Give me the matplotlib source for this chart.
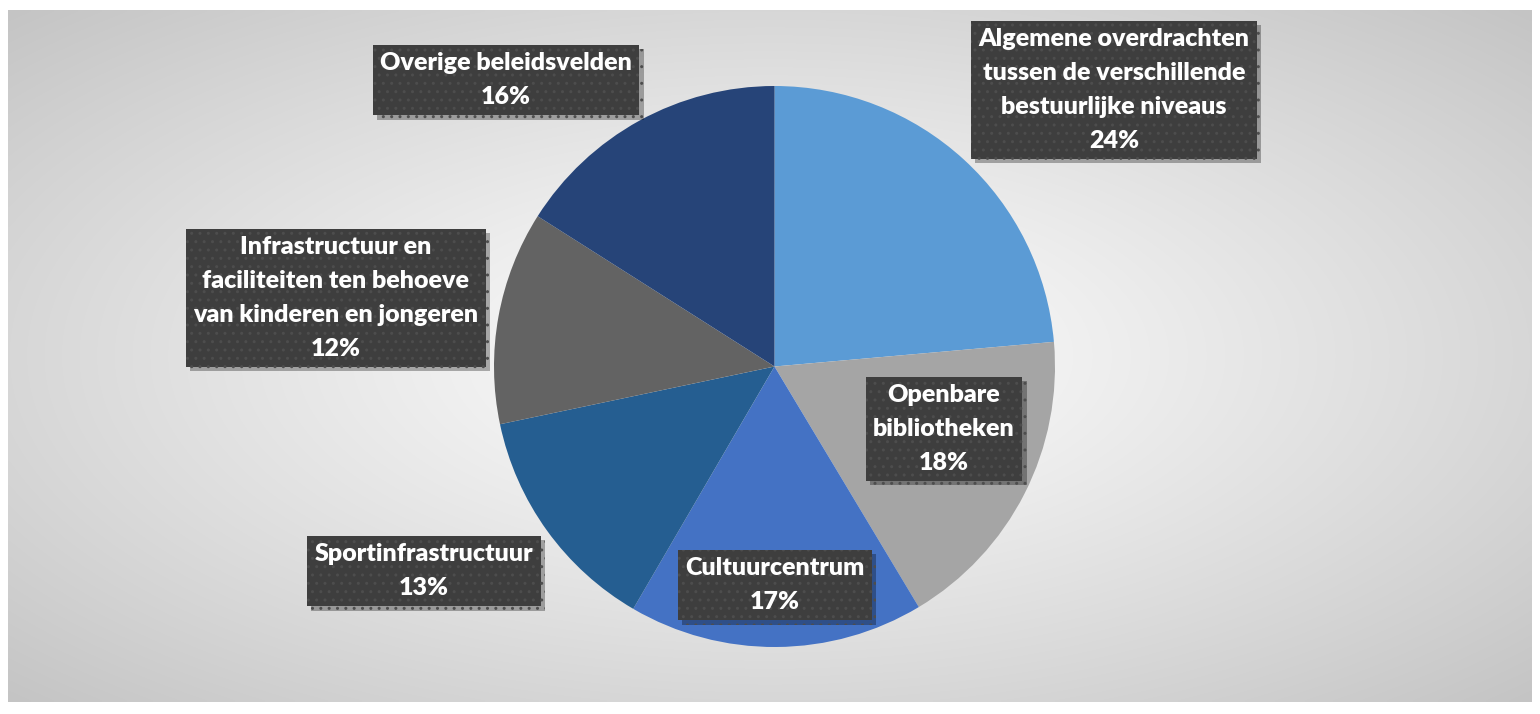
import numpy as np
import matplotlib
matplotlib.use("Agg")
import matplotlib.pyplot as plt
import matplotlib.patheffects as pe

# ---- data ----
categories = [
    "Algemene overdrachten\ntussen de verschillende\nbestuurlijke niveaus",
    "Openbare\nbibliotheken",
    "Cultuurcentrum",
    "Sportinfrastructuur",
    "Infrastructuur en\nfaciliteiten ten behoeve\nvan kinderen en jongeren",
    "Overige beleidsvelden",
]
values = [23.6, 17.8, 17.0, 13.3, 12.3, 16.0]
colors = ["#5B9BD5", "#A5A5A5", "#4472C4", "#255E91", "#636363", "#264478"]

# label box centres in pixel coordinates (x from left, y from top) -- layout
label_pos_px = [(1114, 90), (944, 429), (775, 585), (424, 571), (336, 298), (506, 80)]

W, H = 1540, 714
fig = plt.figure(figsize=(W / 100, H / 100), dpi=100)
fig.patch.set_facecolor("white")

# ---- background radial gradient panel ----
x0, y0, x1, y1 = 8, 10, 1532, 702
bg = fig.add_axes([x0 / W, 1 - y1 / H, (x1 - x0) / W, (y1 - y0) / H])
bg.set_axis_off()
nx, ny = 400, 200
xs = np.linspace(-1, 1, nx)
ys = np.linspace(-1, 1, ny)
XX, YY = np.meshgrid(xs, ys)
R = np.sqrt(XX ** 2 + YY ** 2)
val = 255 - 36 * R - 4 * R ** 2
img = np.clip(val / 255.0, 0, 1)
bg.imshow(np.dstack([img, img, img]), aspect="auto", extent=(0, 1, 0, 1), interpolation="bilinear")
bg.set_xlim(0, 1)
bg.set_ylim(0, 1)

# ---- pie ----
cx, cy, r = 774.5, 366.5, 280.5
ax = fig.add_axes([(cx - r) / W, 1 - (cy + r) / H, 2 * r / W, 2 * r / H])
ax.pie(values, colors=colors, startangle=90, counterclock=False, radius=1.0)
ax.set_xlim(-1, 1)
ax.set_ylim(-1, 1)
ax.set_axis_off()

# ---- labels ----
total = sum(values)
for cat, v, (px, py) in zip(categories, values, label_pos_px):
    pct = int(round(100 * v / total))
    t = fig.text(px / W, 1 - py / H, f"{cat}\n{pct}%", ha="center", va="center",
                 ma="center", color="white", fontsize=18, fontweight="heavy",
                 family=["Lato", "DejaVu Sans"], linespacing=1.65,
                 bbox=dict(boxstyle="square,pad=0.3", fc="#3e3e3e", ec="#4d4d4d",
                           lw=0, hatch=".."), zorder=5)
    t.get_bbox_patch().set_path_effects([
        pe.SimplePatchShadow(offset=(3, -3), shadow_rgbFace="black", alpha=0.3),
        pe.Normal()])

fig.savefig("out.png", dpi=100, facecolor=fig.get_facecolor())
